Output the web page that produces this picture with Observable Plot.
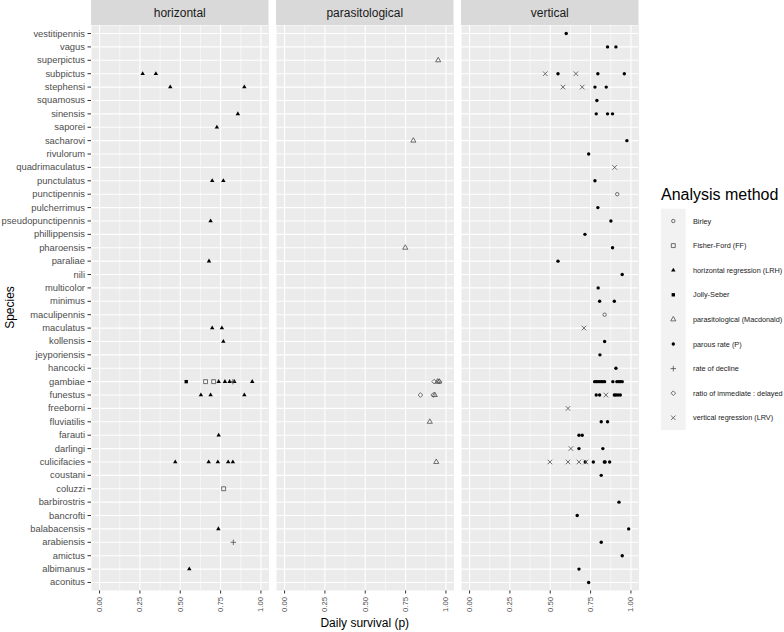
<!DOCTYPE html>
<html><head><meta charset="utf-8">
<script src="https://cdn.jsdelivr.net/npm/d3@7"></script>
<script src="https://cdn.jsdelivr.net/npm/@observablehq/plot@0.6"></script>
<style>
body{margin:0;background:#fff;}
#wrap{position:relative;width:784px;height:632px;font-family:"Liberation Sans",Arial,sans-serif;}
#wrap svg{font-family:"Liberation Sans",Arial,sans-serif;overflow:visible;}
#wrap [aria-label^="x-axis"] text{font-size:7.7px;fill:#4D4D4D;}
#wrap [aria-label^="y-axis"] text{font-size:9.4px;fill:#4D4D4D;}
#wrap [aria-label^="x-axis"] path,#wrap [aria-label^="y-axis"] path{stroke:#333;}
</style></head><body><div id="wrap"></div>
<script>
const species = ["vestitipennis","vagus","superpictus","subpictus","stephensi","squamosus","sinensis","saporei","sacharovi","rivulorum","quadrimaculatus","punctulatus","punctipennis","pulcherrimus","pseudopunctipennis","phillippensis","pharoensis","paraliae","nili","multicolor","minimus","maculipennis","maculatus","kollensis","jeyporiensis","hancocki","gambiae","funestus","freeborni","fluviatilis","farauti","darlingi","culicifacies","coustani","coluzzi","barbirostris","bancrofti","balabacensis","arabiensis","amictus","albimanus","aconitus"];
const panels = ["horizontal","parasitological","vertical"];
const methods = ["Birley","Fisher-Ford (FF)","horizontal regression (LRH)","Jolly-Seber","parasitological (Macdonald)","parous rate (P)","rate of decline","ratio of immediate : delayed","vertical regression (LRV)"];
const methodPanel = ["vertical","horizontal","horizontal","horizontal","parasitological","vertical","horizontal","parasitological","vertical"];
const xTicks = [0, 0.25, 0.5, 0.75, 1];
const xMinor = [0.125, 0.375, 0.625, 0.875];

// [species, daily survival]
const birley = [["punctipennis",0.915],["maculipennis",0.837]];
const fisherFord = [["gambiae",0.657],["gambiae",0.707],["coluzzi",0.769]];
const lrh = [["subpictus",0.267],["subpictus",0.349],["stephensi",0.438],["stephensi",0.897],["sinensis",0.857],["saporei",0.727],["punctulatus",0.698],["punctulatus",0.767],["pseudopunctipennis",0.688],["paraliae",0.678],["maculatus",0.698],["maculatus",0.758],["kollensis",0.767],["gambiae",0.738],["gambiae",0.777],["gambiae",0.806],["gambiae",0.835],["gambiae",0.946],["funestus",0.628],["funestus",0.688],["funestus",0.897],["farauti",0.738],["culicifacies",0.469],["culicifacies",0.676],["culicifacies",0.733],["culicifacies",0.797],["culicifacies",0.826],["balabacensis",0.736],["albimanus",0.556]];
const jollySeber = [["gambiae",0.537]];
const macdonald = [["superpictus",0.952],["sacharovi",0.798],["pharoensis",0.748],["gambiae",0.948],["gambiae",0.958],["funestus",0.931],["fluviatilis",0.9],["culicifacies",0.94]];
const parous = [["vestitipennis",0.599],["vagus",0.855],["vagus",0.907],["subpictus",0.548],["subpictus",0.795],["subpictus",0.959],["stephensi",0.777],["stephensi",0.847],["squamosus",0.789],["sinensis",0.785],["sinensis",0.855],["sinensis",0.886],["sacharovi",0.975],["rivulorum",0.738],["punctulatus",0.777],["pulcherrimus",0.795],["pseudopunctipennis",0.876],["phillippensis",0.715],["pharoensis",0.886],["paraliae",0.548],["nili",0.946],["multicolor",0.797],["minimus",0.806],["minimus",0.897],["kollensis",0.837],["jeyporiensis",0.808],["hancocki",0.907],["gambiae",0.775],["gambiae",0.785],["gambiae",0.795],["gambiae",0.806],["gambiae",0.816],["gambiae",0.826],["gambiae",0.837],["gambiae",0.888],["gambiae",0.913],["gambiae",0.925],["gambiae",0.935],["gambiae",0.946],["funestus",0.785],["funestus",0.806],["funestus",0.897],["funestus",0.907],["funestus",0.92],["funestus",0.934],["fluviatilis",0.816],["fluviatilis",0.855],["farauti",0.678],["farauti",0.698],["darlingi",0.678],["darlingi",0.826],["culicifacies",0.717],["culicifacies",0.767],["culicifacies",0.835],["culicifacies",0.84],["culicifacies",0.868],["coustani",0.816],["barbirostris",0.926],["bancrofti",0.667],["balabacensis",0.986],["arabiensis",0.816],["amictus",0.946],["albimanus",0.678],["aconitus",0.738]];
const rateOfDecline = [["gambiae",0.826],["arabiensis",0.829]];
const ratioImmDel = [["gambiae",0.927],["gambiae",0.96],["funestus",0.842],["funestus",0.921]];
const lrv = [["subpictus",0.469],["subpictus",0.659],["stephensi",0.579],["stephensi",0.698],["quadrimaculatus",0.899],["maculatus",0.709],["funestus",0.845],["freeborni",0.61],["darlingi",0.628],["culicifacies",0.498],["culicifacies",0.61],["culicifacies",0.678],["culicifacies",0.721]];
const methodValues = [birley, fisherFord, lrh, jollySeber, macdonald, parous, rateOfDecline, ratioImmDel, lrv];

// styles (not data)
const symbolStyle = {
  "Birley": {symbol:"circle", filled:false, r:1.7},
  "Fisher-Ford (FF)": {symbol:"square2", filled:false, r:2.5},
  "horizontal regression (LRH)": {symbol:"triangle", filled:true, r:1.65},
  "Jolly-Seber": {symbol:"square", filled:true, r:1.9},
  "parasitological (Macdonald)": {symbol:"triangle2", filled:false, r:2.45},
  "parous rate (P)": {symbol:"circle", filled:true, r:1.7},
  "rate of decline": {symbol:"plus", filled:false, r:1.9},
  "ratio of immediate : delayed": {symbol:"diamond2", filled:false, r:2.1},
  "vertical regression (LRV)": {symbol:"times", filled:false, r:2.2}
};
const openStroke = "#4d4d4d";

const rows = methods.flatMap((m, i) => methodValues[i].map(([s, v]) => ({method: m, panel: methodPanel[i], species: s, value: v})));

const W = 784, H = 632, mL = 91, mR = 145.5, mT = 25, mB = 42;

const dotMarks = methods.map(m => {
  const st = symbolStyle[m];
  return Plot.dot(rows.filter(d => d.method === m), {
    x: "value", y: "species", fx: "panel",
    symbol: st.symbol, r: st.r,
    fill: st.filled ? "#000" : "none",
    stroke: st.filled ? "none" : openStroke,
    strokeWidth: st.filled ? 0 : 0.8
  });
});

const chart = Plot.plot({
  width: W, height: H,
  marginLeft: mL, marginRight: mR, marginTop: mT, marginBottom: mB,
  style: {background: "transparent", fontFamily: "Liberation Sans, Arial, sans-serif"},
  fx: {domain: panels, axis: null, paddingInner: 0.0405, paddingOuter: 0, round: false, label: null},
  x: {domain: [-0.05, 1.05], ticks: xTicks, tickFormat: d3.format(".2f"), tickRotate: -90, tickSize: 3.5, tickPadding: 3, label: null},
  y: {domain: species, type: "point", padding: 0.6, round: false, tickSize: 3.5, tickPadding: 3, label: null},
  marks: [
    Plot.frame({fill: "#EBEBEB", stroke: "none"}),
    Plot.ruleX(xMinor, {stroke: "#fff", strokeWidth: 0.55}),
    Plot.ruleX(xTicks, {stroke: "#fff", strokeWidth: 1.1}),
    Plot.ruleY(species, {stroke: "#fff", strokeWidth: 1.1}),
    ...dotMarks
  ]
});

document.getElementById("wrap").appendChild(chart);

const svg = d3.select(chart);
const fx = chart.scale("fx");
const g = svg.append("g").attr("class", "strips");
panels.forEach(p => {
  const x0 = fx.apply(p);
  g.append("rect").attr("x", x0).attr("y", 0).attr("width", fx.bandwidth).attr("height", mT).attr("fill", "#D9D9D9");
  g.append("text").attr("x", x0 + fx.bandwidth / 2).attr("y", 17).attr("text-anchor", "middle")
    .style("font-size", "12px").style("fill", "#1A1A1A").text(p);
});

// axis titles
const xMid = fx.apply("parasitological") + fx.bandwidth / 2;
svg.append("text").attr("x", xMid).attr("y", 627).attr("text-anchor", "middle")
  .style("font-size", "12px").style("fill", "#000").text("Daily survival (p)");
svg.append("text").attr("transform", `translate(14,${(mT + H - mB) / 2}) rotate(-90)`).attr("text-anchor", "middle")
  .style("font-size", "12px").style("fill", "#000").text("Species");

// legend
const symMap = {circle: d3.symbolCircle, square2: d3.symbolSquare2, triangle: d3.symbolTriangle, square: d3.symbolSquare,
  triangle2: d3.symbolTriangle2, plus: d3.symbolPlus, diamond2: d3.symbolDiamond2, times: d3.symbolTimes};
const lg = svg.append("g").attr("class", "legend").attr("text-anchor", "start");
const keyX = 661, keyTop = 208.7, keyH = 24.6;
lg.append("text").attr("x", keyX).attr("y", 200).attr("text-anchor", "start")
  .style("font-size", "16px").style("fill", "#000").text("Analysis method");
lg.append("rect").attr("x", keyX).attr("y", keyTop).attr("width", keyH).attr("height", keyH * methods.length).attr("fill", "#F2F2F2");
methods.forEach((m, i) => {
  const st = symbolStyle[m];
  const cy = keyTop + keyH * (i + 0.5);
  lg.append("path").attr("d", d3.symbol(symMap[st.symbol], Math.PI * st.r * st.r)())
    .attr("transform", `translate(${keyX + keyH / 2},${cy})`)
    .attr("fill", st.filled ? "#000" : "none").attr("stroke", st.filled ? "none" : openStroke).attr("stroke-width", 0.8);
  lg.append("text").attr("x", 693).attr("y", cy).attr("dy", "0.35em").attr("text-anchor", "start")
    .style("font-size", "7.3px").style("fill", "#1A1A1A").text(m);
});
</script></body></html>
